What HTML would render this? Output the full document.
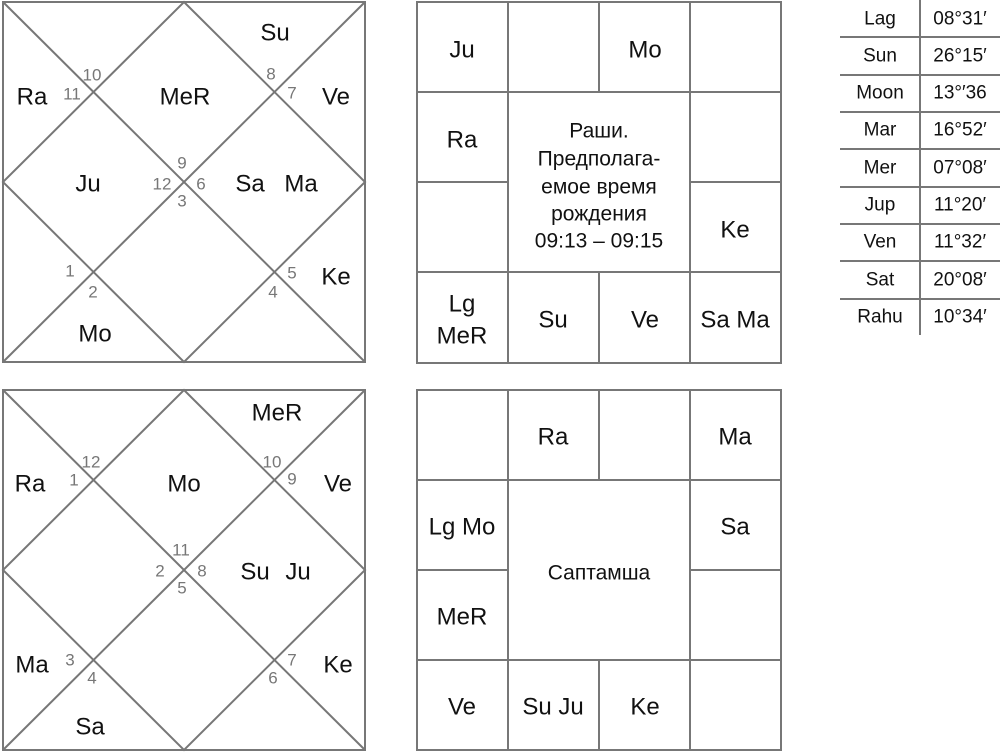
<!DOCTYPE html>
<html><head><meta charset="utf-8"><style>
html,body{margin:0;padding:0;background:#fff;width:1000px;height:752px;overflow:hidden}
svg text{font-family:"Liberation Sans",sans-serif}
.p{font-size:24px;fill:#111;text-anchor:middle;dominant-baseline:central}
.n{font-size:17px;fill:#777;text-anchor:middle;dominant-baseline:central}
.c{font-size:21px;fill:#111;text-anchor:middle;dominant-baseline:central}
.t{font-size:19px;fill:#111;text-anchor:middle;dominant-baseline:central}
</style></head><body>
<svg width="1000" height="752" viewBox="0 0 1000 752" xmlns="http://www.w3.org/2000/svg">
<g stroke="#777" stroke-width="2" fill="none">
<!-- top-left north chart -->
<rect x="3" y="2" width="362" height="360"/>
<line x1="3" y1="2" x2="365" y2="362"/><line x1="365" y1="2" x2="3" y2="362"/>
<polygon points="184,2 365,182 184,362 3,182"/>
<!-- bottom-left -->
<rect x="3" y="390" width="362" height="360"/>
<line x1="3" y1="390" x2="365" y2="750"/><line x1="365" y1="390" x2="3" y2="750"/>
<polygon points="184,390 365,570 184,750 3,570"/>
<!-- top south -->
<rect x="417" y="2" width="364" height="361"/>
<line x1="508" y1="2" x2="508" y2="363"/><line x1="599" y1="2" x2="599" y2="92"/><line x1="599" y1="272" x2="599" y2="363"/><line x1="690" y1="2" x2="690" y2="363"/>
<line x1="417" y1="92" x2="781" y2="92"/><line x1="417" y1="182" x2="508" y2="182"/><line x1="690" y1="182" x2="781" y2="182"/><line x1="417" y1="272" x2="781" y2="272"/>
<!-- bottom south -->
<rect x="417" y="390" width="364" height="360"/>
<line x1="508" y1="390" x2="508" y2="750"/><line x1="599" y1="390" x2="599" y2="480"/><line x1="599" y1="660" x2="599" y2="750"/><line x1="690" y1="390" x2="690" y2="750"/>
<line x1="417" y1="480" x2="781" y2="480"/><line x1="417" y1="570" x2="508" y2="570"/><line x1="690" y1="570" x2="781" y2="570"/><line x1="417" y1="660" x2="781" y2="660"/>
<!-- table -->
<line x1="920" y1="0" x2="920" y2="335"/>
<line x1="840" y1="37" x2="1000" y2="37"/><line x1="840" y1="75" x2="1000" y2="75"/><line x1="840" y1="112" x2="1000" y2="112"/><line x1="840" y1="149" x2="1000" y2="149"/><line x1="840" y1="187" x2="1000" y2="187"/><line x1="840" y1="224" x2="1000" y2="224"/><line x1="840" y1="261" x2="1000" y2="261"/><line x1="840" y1="299" x2="1000" y2="299"/>
</g>
<!-- top-left labels -->
<text class="p" x="275" y="33">Su</text><text class="p" x="32" y="97">Ra</text><text class="p" x="185" y="97">MeR</text><text class="p" x="336" y="97">Ve</text>
<text class="p" x="88" y="184">Ju</text><text class="p" x="250" y="184">Sa</text><text class="p" x="301" y="184">Ma</text>
<text class="p" x="336" y="277">Ke</text><text class="p" x="95" y="334">Mo</text>
<text class="n" x="72" y="94">11</text><text class="n" x="92" y="75">10</text><text class="n" x="271" y="74">8</text><text class="n" x="292" y="93">7</text>
<text class="n" x="182" y="163">9</text><text class="n" x="162" y="184">12</text><text class="n" x="201" y="184">6</text><text class="n" x="182" y="201">3</text>
<text class="n" x="70" y="271">1</text><text class="n" x="93" y="292">2</text><text class="n" x="292" y="273">5</text><text class="n" x="273" y="292">4</text>
<!-- bottom-left labels -->
<text class="p" x="277" y="413">MeR</text><text class="p" x="30" y="484">Ra</text><text class="p" x="184" y="484">Mo</text><text class="p" x="338" y="484">Ve</text>
<text class="p" x="255" y="572">Su</text><text class="p" x="298" y="572">Ju</text>
<text class="p" x="32" y="665">Ma</text><text class="p" x="338" y="665">Ke</text><text class="p" x="90" y="727">Sa</text>
<text class="n" x="74" y="480">1</text><text class="n" x="91" y="462">12</text><text class="n" x="272" y="462">10</text><text class="n" x="292" y="479">9</text>
<text class="n" x="181" y="550">11</text><text class="n" x="160" y="571">2</text><text class="n" x="202" y="571">8</text><text class="n" x="182" y="588">5</text>
<text class="n" x="70" y="660">3</text><text class="n" x="92" y="678">4</text><text class="n" x="292" y="660">7</text><text class="n" x="273" y="678">6</text>
<!-- top south labels -->
<text class="p" x="462" y="50">Ju</text><text class="p" x="645" y="50">Mo</text><text class="p" x="462" y="140">Ra</text><text class="p" x="735" y="230">Ke</text>
<text class="p" x="462" y="304">Lg</text><text class="p" x="462" y="336">MeR</text><text class="p" x="553" y="320">Su</text><text class="p" x="645" y="320">Ve</text><text class="p" x="735" y="320">Sa Ma</text>
<text class="c" x="599" y="131">Раши.</text><text class="c" x="599" y="159">Предполага-</text><text class="c" x="599" y="187">емое время</text><text class="c" x="599" y="214">рождения</text><text class="c" x="599" y="241">09:13 – 09:15</text>
<!-- bottom south labels -->
<text class="p" x="553" y="437">Ra</text><text class="p" x="735" y="437">Ma</text><text class="p" x="462" y="527">Lg Mo</text><text class="p" x="735" y="527">Sa</text>
<text class="c" x="599" y="573">Саптамша</text><text class="p" x="462" y="617">MeR</text>
<text class="p" x="462" y="707">Ve</text><text class="p" x="553" y="707">Su Ju</text><text class="p" x="645" y="707">Ke</text>
<!-- table text -->
<text class="t" x="880" y="19">Lag</text><text class="t" x="960" y="19">08°31′</text>
<text class="t" x="880" y="56">Sun</text><text class="t" x="960" y="56">26°15′</text>
<text class="t" x="880" y="93">Moon</text><text class="t" x="960" y="93">13°′36</text>
<text class="t" x="880" y="130">Mar</text><text class="t" x="960" y="130">16°52′</text>
<text class="t" x="880" y="168">Mer</text><text class="t" x="960" y="168">07°08′</text>
<text class="t" x="880" y="205">Jup</text><text class="t" x="960" y="205">11°20′</text>
<text class="t" x="880" y="242">Ven</text><text class="t" x="960" y="242">11°32′</text>
<text class="t" x="880" y="280">Sat</text><text class="t" x="960" y="280">20°08′</text>
<text class="t" x="880" y="317">Rahu</text><text class="t" x="960" y="317">10°34′</text>
</svg>
</body></html>
